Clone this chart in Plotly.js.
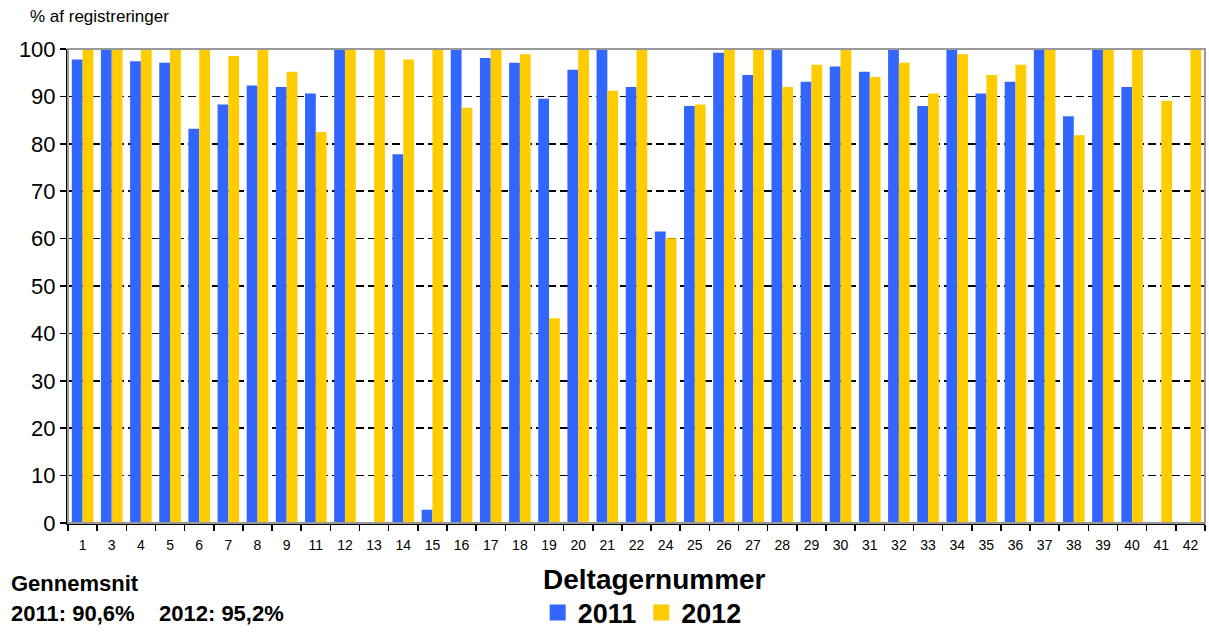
<!DOCTYPE html>
<html>
<head>
<meta charset="utf-8">
<script src="https://cdn.plot.ly/plotly-3.0.1.min.js"></script>
<style>html,body{margin:0;padding:0;background:#fff;}#chart{width:1209px;height:633px;}</style>
</head>
<body>
<div id="chart"></div>
<script>
const categories = ["1","3","4","5","6","7","8","9","11","12","13","14","15","16","17","18","19","20","21","22","24","25","26","27","28","29","30","31","32","33","34","35","36","37","38","39","40","41","42"];
const values2011 = [97.8,100,97.4,97.1,83.2,88.3,92.3,92.0,90.6,100,null,77.8,2.8,100,98.1,97.1,89.5,95.6,100,92.0,61.5,88.0,99.2,94.5,100,93.1,96.3,95.2,100,88.0,100,90.6,93.1,100,85.8,100,92.0,null,null];
const values2012 = [100,100,100,100,100,98.5,100,95.2,82.5,100,100,97.8,100,87.6,100,98.9,43.2,100,91.2,100,60.1,88.3,100,100,92.0,96.7,100,94.1,97.1,90.6,98.9,94.5,96.7,100,81.8,100,100,89.1,100];
const seriesNames = ["2011","2012"];
const seriesColors = ["#3366FF","#FFCC00"];
const yTicks = [0,10,20,30,40,50,60,70,80,90,100];

const font = "Liberation Sans, Arial, sans-serif";
const traces = [
  {type:"bar", name:seriesNames[0], x:categories, y:values2011, marker:{color:seriesColors[0]}, showlegend:false},
  {type:"bar", name:seriesNames[1], x:categories, y:values2012, marker:{color:seriesColors[1]}, showlegend:false},
  {type:"scatter", mode:"markers", name:seriesNames[0], x:[null], y:[null], marker:{symbol:"square", size:18, color:seriesColors[0]}, showlegend:true},
  {type:"scatter", mode:"markers", name:seriesNames[1], x:[null], y:[null], marker:{symbol:"square", size:18, color:seriesColors[1]}, showlegend:true}
];
const layout = {
  width:1209, height:633,
  margin:{l:68, r:4, t:49, b:110, autoexpand:false},
  paper_bgcolor:"#fff", plot_bgcolor:"#fff",
  barmode:"group", bargap:0.26, bargroupgap:0,
  font:{family:font, color:"#000"},
  xaxis:{type:"category", categoryarray:categories, categoryorder:"array", showline:true, linecolor:"#000", linewidth:2,
    ticks:"outside", tickson:"boundaries", ticklen:6, tickcolor:"#000", tickwidth:1.5, ticklabelstandoff:8,
    tickfont:{size:14, family:font}, showgrid:false, zeroline:false},
  yaxis:{range:[0,100], tickvals:yTicks, showline:true, linecolor:"#000", linewidth:2,
    ticks:"outside", ticklen:6, tickcolor:"#000", tickwidth:1.5,
    tickfont:{size:22, family:font}, showgrid:true, gridcolor:"#000", gridwidth:1.5, griddash:"8px,4px", zeroline:false},
  shapes:[{type:"rect", xref:"paper", yref:"paper", x0:0, x1:1, y0:0, y1:1, line:{color:"#999", width:2}, layer:"above"}],
  showlegend:true,
  legend:{orientation:"h", x:0.505, xanchor:"center", y:-0.19, yanchor:"middle",
    font:{size:27, family:font, weight:"bold"}, traceorder:"normal", itemsizing:"trace", tracegroupgap:0},
  annotations:[
    {text:"% af registreringer", xref:"paper", yref:"paper", x:-0.035, y:1.045, xanchor:"left", yanchor:"bottom", showarrow:false, font:{size:17, family:font}},
    {text:"<b>Deltagernummer</b>", xref:"paper", yref:"paper", x:0.516, y:-0.12, xanchor:"center", yanchor:"middle", showarrow:false, font:{size:28, family:font}},
    {text:"<b>Gennemsnit</b>", xref:"paper", yref:"paper", x:-0.052, y:-0.128, xanchor:"left", yanchor:"middle", showarrow:false, font:{size:22, family:font}},
    {text:"<b>2011: 90,6%    2012: 95,2%</b>", xref:"paper", yref:"paper", x:-0.052, y:-0.19, xanchor:"left", yanchor:"middle", showarrow:false, font:{size:22, family:font}}
  ]
};
Plotly.newPlot("chart", traces, layout, {displayModeBar:false, staticPlot:true});
</script>
</body>
</html>
